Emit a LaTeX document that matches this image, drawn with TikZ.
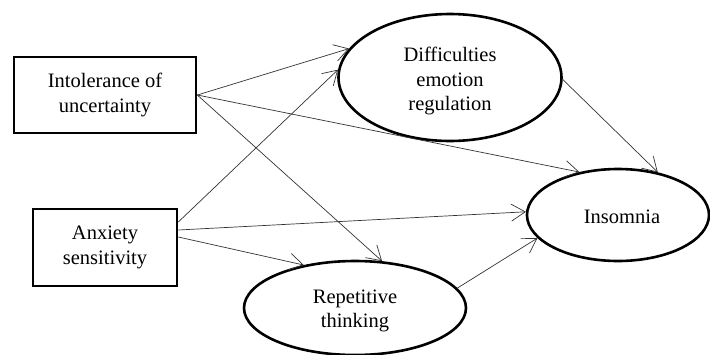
\documentclass[tikz,border=0pt]{standalone}
\usepackage{fontspec}
\setmainfont{Liberation Serif}
\usetikzlibrary{shapes.geometric,arrows.meta}
\begin{document}
\begin{tikzpicture}[x=1pt,y=-1pt,
  every node/.style={font=\fontsize{20.5}{24.5}\selectfont, align=center, inner sep=0pt},
  varbox/.style={draw, line width=2.6pt, rectangle},
  latent/.style={draw, line width=2.6pt, ellipse},
  path/.style={draw=black!80, line width=0.7pt, -{Straight Barb[length=14pt,width=17pt,line width=0.7pt]}}
]
\useasboundingbox (0,0) rectangle (710,354);
\node[varbox, minimum width=182pt, minimum height=76pt] (iu) at (105,95) {Intolerance of\\uncertainty};
\node[varbox, minimum width=144pt, minimum height=77pt] (as) at (105,247.5) {Anxiety\\sensitivity};
\node[latent, minimum width=223pt, minimum height=127pt] (der) at (450,77.5) {};
\node at (450,81) {Difficulties\\emotion\\regulation};
\node[latent, minimum width=182pt, minimum height=92pt] (ins) at (618,215) {};
\node at (622,217) {Insomnia};
\node[latent, minimum width=222pt, minimum height=94pt] (rt) at (355,308) {};
\node at (355,311) {Repetitive\\thinking};

\draw[path] (iu.east) -- (der.164);
\draw[path] ([yshift=25.5pt]as.east) -- (der.176);
\draw[path] (iu.east) -- (ins.132);
\draw[path] (der.-1) -- (ins.47);
\draw[path] ([yshift=17.5pt]as.east) -- (ins.178);
\draw[path] ([yshift=10.5pt]as.east) -- (rt.140);
\draw[path] (iu.east) -- (rt.60);
\draw[path] (rt.11) -- (ins.196);
\end{tikzpicture}
\end{document}
